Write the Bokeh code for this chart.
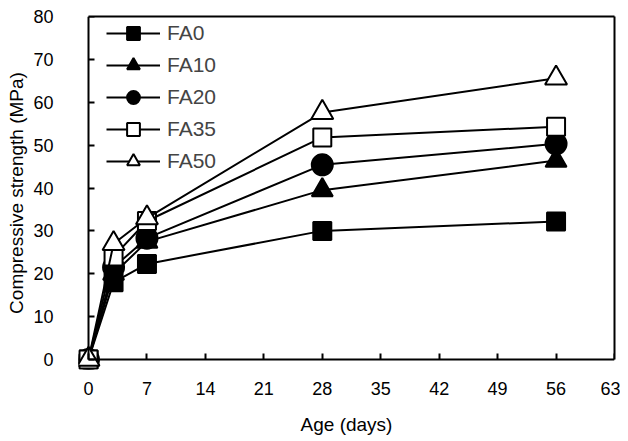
from bokeh.plotting import figure
from bokeh.models import (Range1d, FixedTicker, Legend, LegendItem, LinearAxis,
                          CustomLabelingPolicy)
from bokeh.embed import file_html
from bokeh.resources import INLINE

days = [0, 3, 7, 28, 56]
fa0 = [0, 18, 22.3, 30, 32.2]
fa10 = [0, 20, 27.5, 39.5, 46.4]
fa20 = [0, 21.5, 28.3, 45.4, 50.3]
fa35 = [0, 24, 32.3, 51.8, 54.3]
fa50 = [0, 27, 33, 57.6, 65.6]
names = ["FA0", "FA10", "FA20", "FA35", "FA50"]
x_ticks = [0, 7, 14, 21, 28, 35, 42, 49, 56, 63]
y_ticks = [0, 10, 20, 30, 40, 50, 60, 70, 80]

FONT = "Liberation Sans"

p = figure(width=620, height=440, output_backend="svg", toolbar_location=None,
           x_range=Range1d(-1.2, 63), y_range=Range1d(-2.33, 80),
           min_border_left=78, min_border_right=6, min_border_top=16, min_border_bottom=71)
p.xgrid.visible = False
p.ygrid.visible = False
p.outline_line_color = None
p.background_fill_color = "white"
p.border_fill_color = "white"

# label-only axes at the frame edges
for ax in (p.xaxis[0], p.yaxis[0]):
    ax.axis_line_color = None
    ax.major_tick_line_color = None
    ax.minor_tick_line_color = None
    ax.major_tick_in = 0
    ax.major_tick_out = 0
    ax.major_label_text_font = FONT
    ax.major_label_text_font_size = "18px"
    ax.major_label_text_color = "black"
    ax.axis_label_text_font = FONT
    ax.axis_label_text_font_size = "19px"
    ax.axis_label_text_font_style = "normal"
    ax.axis_label_text_color = "black"

p.xaxis.ticker = FixedTicker(ticks=x_ticks)
p.yaxis.ticker = FixedTicker(ticks=y_ticks)
p.xaxis.axis_label = "Age (days)"
p.yaxis.axis_label = "Compressive strength (MPa)"
p.xaxis.major_label_standoff = 12
p.xaxis.axis_label_standoff = 16
p.yaxis.major_label_standoff = 25
p.yaxis.axis_label_standoff = 3


def line_axis(ticks, bounds, fixed=None):
    a = LinearAxis(bounds=bounds, axis_line_width=2, axis_line_color="black",
                   major_tick_line_width=2, major_tick_line_color="black",
                   major_tick_in=6, major_tick_out=0, minor_tick_line_color=None,
                   major_label_standoff=0,
                   major_label_policy=CustomLabelingPolicy(code="return new Set()"),
                   ticker=FixedTicker(ticks=ticks))
    if fixed is not None:
        a.fixed_location = fixed
    return a

p.add_layout(line_axis(x_ticks, (0, 63), 0), "below")
p.add_layout(line_axis(y_ticks, (0, 80), 0), "left")
p.add_layout(line_axis([], (0, 63)), "above")
p.add_layout(line_axis([], (0, 80)), "right")

series = [fa0, fa10, fa20, fa35, fa50]
markers = ["square", "triangle", "circle", "square", "triangle"]
fills = ["black", "black", "black", "white", "white"]
sizes = [18, 21, 21, 18, 22]
items = []
for name, ys, mk, fc, sz in zip(names, series, markers, fills, sizes):
    ln = p.line(days, ys, line_color="black", line_width=2)
    sc = p.scatter(days, ys, marker=mk, size=sz, fill_color=fc, line_color="black", line_width=2)
    items.append(LegendItem(label=name, renderers=[ln, sc]))

legend = Legend(items=items, location=(28, 192), glyph_width=54, glyph_height=32,
                label_height=20, spacing=0, padding=0, margin=0,
                label_standoff=7, border_line_color=None,
                background_fill_alpha=0,
                label_text_font=FONT, label_text_font_size="21px")
p.add_layout(legend)

open("out.html", "w").write(file_html(p, INLINE))
